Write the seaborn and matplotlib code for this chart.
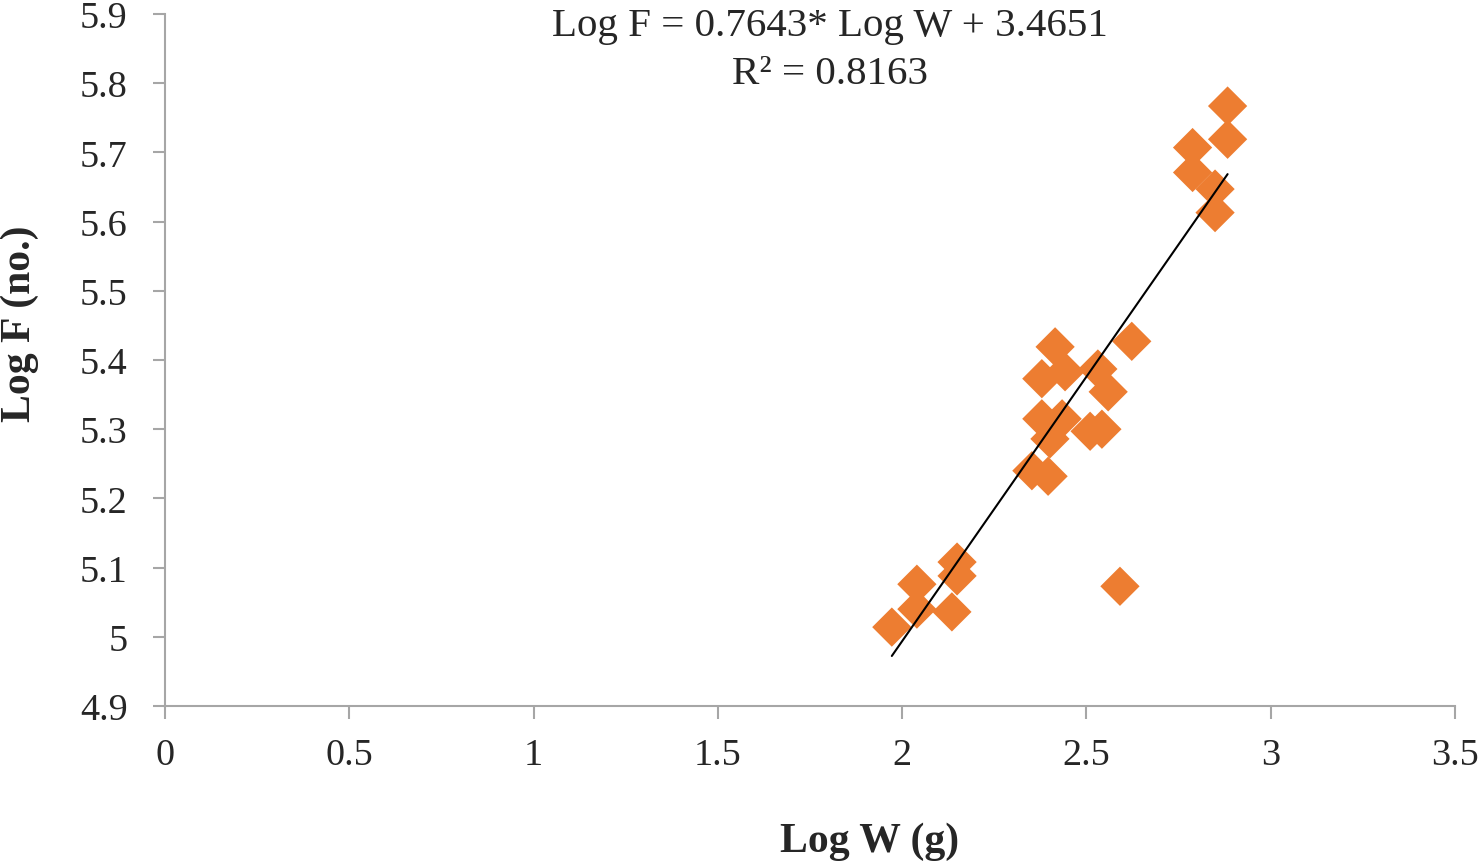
import numpy as np
import pandas as pd
import matplotlib
matplotlib.use("Agg")
import matplotlib.pyplot as plt
import seaborn as sns

log_w = [2.623, 2.415, 2.379, 2.442, 2.531, 2.559, 2.379, 2.434, 2.401, 2.510,
         2.542, 2.352, 2.396, 2.149, 2.149, 2.040, 2.040, 2.135, 1.972, 2.591,
         2.883, 2.883, 2.788, 2.788, 2.849, 2.849]
log_f = [5.427, 5.419, 5.373, 5.383, 5.387, 5.354, 5.315, 5.315, 5.286, 5.297,
         5.300, 5.240, 5.232, 5.108, 5.088, 5.076, 5.040, 5.036, 5.014, 5.073,
         5.767, 5.719, 5.707, 5.671, 5.647, 5.613]
slope = 0.7643
intercept = 3.4651
r2 = 0.8163
x_ticks = [0, 0.5, 1, 1.5, 2, 2.5, 3, 3.5]
x_tick_labels = ["0", "0.5", "1", "1.5", "2", "2.5", "3", "3.5"]
y_ticks = [4.9, 5.0, 5.1, 5.2, 5.3, 5.4, 5.5, 5.6, 5.7, 5.8, 5.9]
y_tick_labels = ["4.9", "5", "5.1", "5.2", "5.3", "5.4", "5.5", "5.6", "5.7", "5.8", "5.9"]

df = pd.DataFrame({"Log W": log_w, "Log F": log_f})

sns.set_style("white")
plt.rcParams['font.family'] = ['Liberation Serif', 'DejaVu Serif']

fig = plt.figure(figsize=(14.8, 8.62), dpi=100)
ax = fig.add_axes([165/1480, 1 - 707/862, 1290/1480, 692/862])

sns.scatterplot(data=df, x="Log W", y="Log F", marker="D", s=400,
                color="#ED7D31", edgecolor="none", linewidth=0, ax=ax, zorder=2)

xl = np.array([min(log_w), max(log_w)])
sns.lineplot(x=xl, y=slope * xl + intercept, color="black", linewidth=1.5, ax=ax, zorder=3)

ax.set_xlim(0, 3.5)
ax.set_ylim(4.9, 5.9)
ax.set_xticks(x_ticks)
ax.set_xticklabels(x_tick_labels)
ax.set_yticks(y_ticks)
ax.set_yticklabels(y_tick_labels)

spine_col = "#A6A6A6"
for s in ["top", "right"]:
    ax.spines[s].set_visible(False)
for s in ["left", "bottom"]:
    ax.spines[s].set_color(spine_col)
    ax.spines[s].set_linewidth(1.5)

ax.tick_params(axis="x", direction="out", length=9, width=1.5, color=spine_col,
               labelsize=27.5, pad=14, bottom=True)
ax.tick_params(axis="y", direction="out", length=9, width=1.5, color=spine_col,
               labelsize=27.5, pad=18, left=True)

ax.set_xlabel("Log W (g)", fontsize=30, fontweight="bold")
ax.set_ylabel("Log F (no.)", fontsize=30, fontweight="bold")
ax.xaxis.set_label_coords((870 - 165) / 1290, (707 - 842) / 692)
ax.yaxis.set_label_coords((20 - 165) / 1290, (707 - 324) / 692)
ax.xaxis.label.set_va("center")
ax.yaxis.label.set_va("center")

ax.text(1.804, 5.883, f"Log F = {slope}* Log W + {intercept}", fontsize=29.5,
        ha="center", va="center", clip_on=False)
ax.text(1.804, 5.814, f"R² = {r2}", fontsize=29.5, ha="center", va="center", clip_on=False)

fig.savefig("out.png", dpi=100)
